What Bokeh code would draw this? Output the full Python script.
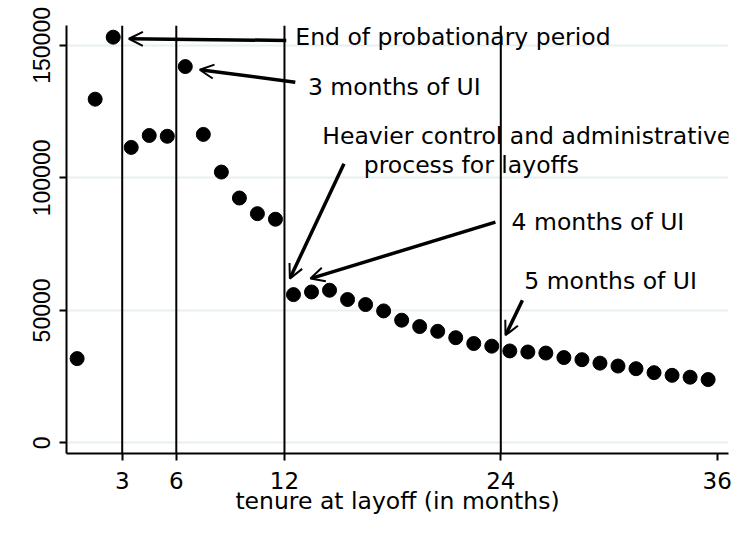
from bokeh.plotting import figure
from bokeh.models import Range1d, Span, Arrow, OpenHead, FixedTicker, ColumnDataSource
from bokeh.embed import file_html
from bokeh.resources import INLINE
from bokeh.core.properties import value

# ---- data ----
tenure = [0.5, 1.5, 2.5, 3.5, 4.5, 5.5, 6.5, 7.5, 8.5, 9.5, 10.5, 11.5,
          12.5, 13.5, 14.5, 15.5, 16.5, 17.5, 18.5, 19.5, 20.5, 21.5, 22.5, 23.5,
          24.5, 25.5, 26.5, 27.5, 28.5, 29.5, 30.5, 31.5, 32.5, 33.5, 34.5, 35.5]
layoffs = [31800, 129700, 153100, 111500, 116000, 115700, 142000, 116400, 102200, 92400, 86500, 84400,
           55950, 56950, 57600, 54100, 52200, 49800, 46300, 43900, 42100, 39700, 37500, 36500,
           34700, 34300, 33900, 32200, 31400, 30100, 29000, 28000, 26500, 25500, 24800, 23900]

x_ticks = [3, 6, 12, 24, 36]
y_ticks = [0, 50000, 100000, 150000]
vlines = [3, 6, 12, 24]

label_texts = ["End of probationary period", "3 months of UI",
               "Heavier control and administrative", "process for layoffs",
               "4 months of UI", "5 months of UI"]
label_x = [12.6, 13.3, 14.1, 16.4, 24.6, 25.3]
label_y = [153300, 134400, 115800, 104800, 83300, 61100]

arrow_x_start = [12.1, 12.6, 15.3, 23.7, 25.2]
arrow_y_start = [151850, 136100, 105350, 83300, 53800]
arrow_x_end = [3.37, 7.3, 12.3, 13.44, 24.26]
arrow_y_end = [152500, 140800, 62000, 62000, 40600]

# ---- figure ----
p = figure(width=735, height=541, output_backend="svg", toolbar_location=None,
           x_range=Range1d(-0.09, 36.63), y_range=Range1d(-4000, 157500),
           min_border_left=66, min_border_right=7, min_border_top=25, min_border_bottom=88)
p.background_fill_color = "white"
p.border_fill_color = "white"
p.outline_line_color = None

p.xgrid.grid_line_color = None
p.ygrid.grid_line_color = "#e8eff2"
p.ygrid.grid_line_width = 2
p.ygrid.ticker = FixedTicker(ticks=y_ticks)

p.xaxis.ticker = FixedTicker(ticks=x_ticks)
p.yaxis.ticker = FixedTicker(ticks=y_ticks)
for ax in (p.xaxis, p.yaxis):
    ax.axis_line_color = "black"
    ax.axis_line_width = 2
    ax.major_tick_line_color = "black"
    ax.major_tick_line_width = 2
    ax.major_tick_out = 7
    ax.major_tick_in = 0
    ax.minor_tick_line_color = None
    ax.major_label_text_color = "black"

p.xaxis.major_label_text_font = "DejaVu Sans"
p.xaxis.major_label_text_font_size = "23px"
p.xaxis.major_label_standoff = 11
p.xaxis.axis_label = "tenure at layoff (in months)"
p.xaxis.axis_label_text_font = "DejaVu Sans"
p.xaxis.axis_label_text_font_size = "23.5px"
p.xaxis.axis_label_text_font_style = "normal"
p.xaxis.axis_label_text_color = "black"
p.xaxis.axis_label_standoff = -5

p.yaxis.major_label_text_font = "Liberation Sans"
p.yaxis.major_label_text_font_size = "23px"
p.yaxis.major_label_orientation = "vertical"
p.yaxis.major_label_standoff = 9
p.yaxis.formatter.use_scientific = False

for v in vlines:
    p.add_layout(Span(location=v, dimension="height", line_color="black", line_width=2))

p.scatter(tenure, layoffs, size=14, color="black")

for xs, ys, xe, ye in zip(arrow_x_start, arrow_y_start, arrow_x_end, arrow_y_end):
    p.add_layout(Arrow(x_start=xs, y_start=ys, x_end=xe, y_end=ye,
                       line_color="black", line_width=3.5,
                       end=OpenHead(size=14, line_color="black", line_width=2)))

src = ColumnDataSource(dict(x=label_x, y=label_y, t=label_texts))
p.text(x="x", y="y", text="t", source=src, text_font=value("DejaVu Sans"),
       text_font_size="23.5px", text_align="left", text_baseline="alphabetic",
       text_color="black")

open("out.html", "w").write(file_html(p, INLINE))
